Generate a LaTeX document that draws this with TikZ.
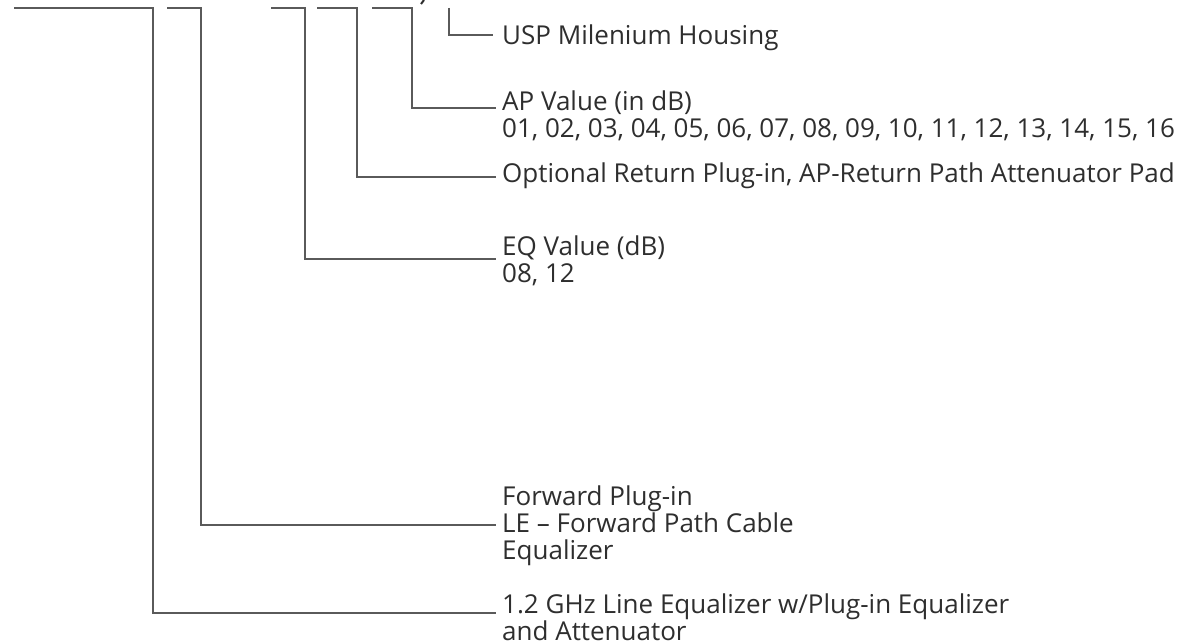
\documentclass[tikz,border=0pt]{standalone}
\usepackage{fontspec}
\setmainfont{Open Sans}
\usepackage{tikz}
\definecolor{leadgray}{HTML}{5A5A5A}
\definecolor{textgray}{HTML}{2E2E2E}
\tikzset{
  lead/.style={draw=leadgray, line width=1.2pt},
  partlabel/.style={anchor=west, inner sep=0pt, align=left, text=textgray,
    font=\fontsize{26}{27}\selectfont}
}

\begin{document}
\begin{tikzpicture}[x=1pt, y=-1pt]
\useasboundingbox (0,0) rectangle (1198,644);

% part number bars along the top
\coordinate (t1) at (14,8);
\coordinate (t2) at (167,8);
\coordinate (t3) at (271,8);
\coordinate (t4) at (317,8);
\coordinate (t5) at (372,8);
\coordinate (t6) at (449,8);

% corners and free ends of the leaders
\coordinate (k1) at (153,613);  \coordinate (e1) at (496,613);
\coordinate (k2) at (201,525);  \coordinate (e2) at (496,525);
\coordinate (k3) at (305,259);  \coordinate (e3) at (496,259);
\coordinate (k4) at (357,177);  \coordinate (e4) at (496,177);
\coordinate (k5) at (412,108);  \coordinate (e5) at (496,108);
\coordinate (e6) at (493,35);

% labels
\node[partlabel] (housing) at (502,38) {USP Milenium Housing};
\node[partlabel] (apvalue) at (502,116) {AP Value (in dB)\\01, 02, 03, 04, 05, 06, 07, 08, 09, 10, 11, 12, 13, 14, 15, 16};
\node[partlabel] (returnpad) at (502,176) {Optional Return Plug-in, AP-Return Path Attenuator Pad};
\node[partlabel] (eqvalue) at (502,260.5) {EQ Value (dB)\\08, 12};
\node[partlabel] (forward) at (502,526) {Forward Plug-in\\LE -- Forward Path Cable\\Equalizer};
\node[partlabel] (lineeq) at (502,617.5) {1.2 GHz Line Equalizer w/Plug-in Equalizer\\and Attenuator};

% leaders
\draw[lead] (t1) -| (k1) -- (e1);
\draw[lead] (t2) -| (k2) -- (e2);
\draw[lead] (t3) -| (k3) -- (e3);
\draw[lead] (t4) -| (k4) -- (e4);
\draw[lead] (t5) -| (k5) -- (e5);
\draw[lead] (t6) |- (e6);

% cut-off stroke at the top edge
\draw[textgray, line width=2pt] (421,4) -- (424,0);
\end{tikzpicture}
\end{document}
